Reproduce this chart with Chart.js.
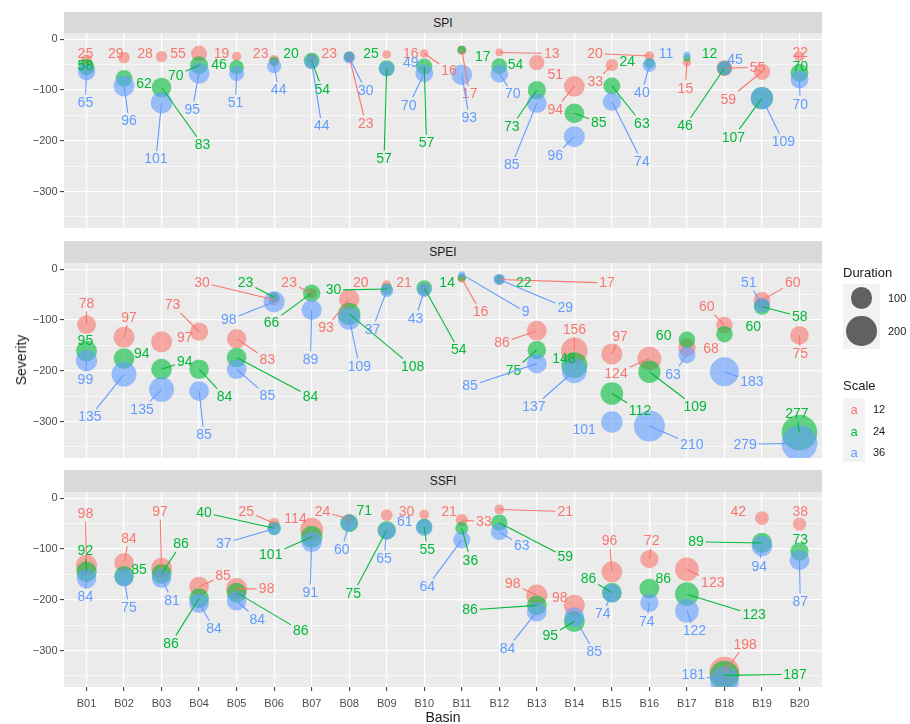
<!DOCTYPE html>
<html>
<head>
<meta charset="utf-8">
<script src="https://cdn.jsdelivr.net/npm/chart.js@4"></script>
<style>
  body { margin: 0; background: #ffffff; font-family: 'Liberation Sans', Arial, sans-serif; }
  #wrap { position: relative; width: 910px; height: 724px; overflow: hidden; background: #ffffff; }
  #wrap canvas { position: absolute; left: 0; }
  .strip { position: absolute; left: 64px; width: 758px; background: #D9D9D9; color: #1A1A1A;
           font-size: 12px; display: flex; align-items: center; justify-content: center; }
  .txt { position: absolute; white-space: nowrap; line-height: 1; color: #1A1A1A; font-weight: normal; }
  .key { position: absolute; background: #F2F2F2; }
  .dot { position: absolute; border-radius: 50%; background: rgba(0,0,0,0.6); }
</style>
</head>
<body>
<div id="wrap">
  <div class="strip" style="top:12px;height:21px;">SPI</div>
  <div class="strip" style="top:241px;height:22px;">SPEI</div>
  <div class="strip" style="top:470px;height:22px;">SSFI</div>
  <canvas id="cSPI" width="910" height="195" style="top:33px"></canvas>
  <canvas id="cSPEI" width="910" height="195" style="top:263px"></canvas>
  <canvas id="cSSFI" width="910" height="218" style="top:492px"></canvas>

  <div class="txt" style="left:21px;top:360px;font-size:14px;transform:translate(-50%,-50%) rotate(-90deg);">Severity</div>
  <div class="txt" style="left:443px;top:717px;font-size:14px;transform:translate(-50%,-50%);">Basin</div>

  <!-- size legend -->
  <div class="txt" style="left:843px;top:272px;font-size:13px;transform:translateY(-50%);">Duration</div>
  <div class="key" style="left:843px;top:284px;width:37px;height:65px;"></div>
  <div id="sizeKeys"></div>
  <!-- colour legend -->
  <div class="txt" style="left:843px;top:385px;font-size:13px;transform:translateY(-50%);">Scale</div>
  <div class="key" style="left:843px;top:398px;width:22px;height:64px;"></div>
  <div id="scaleKeys"></div>
</div>

<script>
// ---- categories, scales, ticks ----
const basins = ['B01','B02','B03','B04','B05','B06','B07','B08','B09','B10',
                'B11','B12','B13','B14','B15','B16','B17','B18','B19','B20'];
const scaleNames = ['12', '24', '36'];
const scaleColors = ['#F8766D', '#00BA38', '#619CFF'];
const yTickValues = [-300, -200, -100, 0];
const yTickLabels = ['\u2212300', '\u2212200', '\u2212100', '0'];
const sizeLegendValues = [100, 200];

// ---- SPI ----
const spiSeverity12 = [-40,-36,-34,-28,-34,-41,-38,-34,-30,-28,-22,-26,-46,-93,-51,-33,-46,-57,-64,-34];
const spiDuration12 = [25,29,28,55,19,23,23,23,16,16,17,13,51,94,33,20,15,55,59,22];
const spiSeverity24 = [-55,-77,-95,-51,-55,-44,-42,-34,-57,-54,-21,-53,-100,-146,-92,-47,-37,-57,-116,-66];
const spiDuration24 = [58,62,83,70,46,20,54,25,57,57,17,54,73,85,63,24,12,46,107,70];
const spiSeverity36 = [-64,-92,-125,-67,-67,-53,-45,-36,-58,-67,-70,-68,-126,-192,-123,-51,-31,-57,-116,-79];
const spiDuration36 = [65,96,101,95,51,44,44,30,49,70,93,70,85,96,74,40,11,45,109,70];

// ---- SPEI ----
const speiSeverity12 = [-109,-134,-143,-123,-137,-60,-47,-59,-31,-37,-18,-20,-121,-161,-167,-176,-154,-110,-61,-130];
const speiDuration12 = [78,97,97,73,83,30,23,93,20,21,16,17,86,156,97,124,68,60,60,75];
const speiSeverity24 = [-161,-176,-197,-197,-174,-55,-47,-88,-39,-37,-16,-20,-159,-189,-245,-202,-139,-128,-74,-322];
const speiDuration24 = [95,94,94,84,84,23,66,108,30,54,14,22,75,148,112,109,60,60,58,277];
const speiSeverity36 = [-180,-207,-237,-240,-197,-64,-80,-97,-42,-41,-10,-20,-186,-200,-301,-309,-169,-202,-70,-343];
const speiDuration36 = [99,135,135,85,85,98,89,109,37,43,9,29,85,137,101,210,63,183,51,279];

// ---- SSFI ----
const ssfiSeverity12 = [-132,-127,-138,-174,-178,-49,-61,-41,-33,-32,-43,-22,-191,-211,-145,-120,-140,-342,-39,-51];
const ssfiDuration12 = [98,84,97,85,98,25,114,24,30,21,33,21,98,98,96,72,123,198,42,38];
const ssfiSeverity24 = [-145,-153,-149,-197,-186,-59,-76,-49,-63,-56,-59,-48,-211,-243,-186,-178,-189,-349,-88,-105];
const ssfiDuration24 = [92,85,86,86,86,40,101,71,75,55,36,59,86,95,86,86,123,187,89,73];
const ssfiSeverity36 = [-158,-156,-158,-207,-202,-60,-86,-49,-64,-58,-82,-66,-224,-234,-187,-206,-222,-360,-94,-122];
const ssfiDuration36 = [84,75,81,84,84,37,91,60,65,61,64,63,84,85,74,74,122,181,94,87];

// ---- repelled label offsets: [basin steps, severity units, draw segment] ----
const spiNudge12 = [[-0.03,12,0],[-0.22,8,0],[-0.44,6,0],[-0.56,0,0],[-0.40,6,0],[-0.36,13,0],[0.47,10,0],[0.44,-132,1],[0.64,2,0],[0.66,-34,1],
                    [0.21,-86,1],[1.40,-2,1],[0.49,-24,0],[-0.51,-45,1],[-0.44,-33,1],[-1.45,5,1],[-0.04,-51,1],[0.88,2,1],[-0.90,-54,1],[0.02,8,0]];
const spiNudge24 = [[-0.03,4,0],[0.53,-11,0],[1.09,-113,1],[-0.62,-21,1],[-0.47,6,0],[0.45,16,0],[0.28,-57,1],[0.58,6,0],[-0.07,-178,1],[0.06,-150,1],
                    [0.56,-13,0],[0.43,4,0],[-0.67,-72,1],[0.65,-18,1],[0.80,-74,1],[-0.59,3,0],[0.60,9,0],[-1.05,-114,1],[-0.76,-77,1],[0.02,12,0]];
const spiNudge36 = [[-0.03,-61,1],[0.13,-69,1],[-0.15,-111,1],[-0.18,-71,1],[-0.03,-58,1],[0.12,-47,1],[0.27,-126,1],[0.44,-65,1],[0.64,11,0],[-0.41,-63,1],
                    [0.20,-84,1],[0.36,-40,1],[-0.67,-122,1],[-0.51,-38,1],[0.80,-118,1],[-0.20,-54,1],[-0.56,3,0],[0.28,16,0],[0.57,-86,1],[0.02,-49,1]];

const speiNudge12 = [[0,42,1],[0.13,39,1],[0.62,8,0],[-0.71,53,1],[0.82,-41,1],[-1.92,34,1],[-0.60,21,1],[-0.62,-57,1],[-0.69,5,0],[-0.54,11,0],
                     [0.50,-66,1],[2.87,-7,1],[-0.93,-24,1],[0,43,1],[0.22,35,1],[-0.89,-29,1],[0.64,-2,0],[-0.47,36,1],[0.82,35,1],[0.02,-37,1]];
const speiNudge24 = [[-0.03,20,0],[0.47,9,0],[0.62,15,1],[0.68,-54,1],[1.97,-77,1],[-0.76,29,1],[-1.07,-58,1],[1.69,-104,1],[-1.42,-2,1],[0.92,-122,1],
                     [-0.39,-10,0],[0.65,-6,0],[-0.62,-41,1],[-0.28,12,0],[0.75,-34,1],[1.22,-69,1],[-0.62,8,0],[0.77,14,0],[1.01,-19,1],[-0.07,38,1]];
const speiNudge36 = [[-0.03,-37,1],[-0.91,-84,1],[-0.52,-39,1],[0.13,-86,1],[0.82,-53,1],[-1.21,-36,1],[-0.03,-98,1],[0.27,-94,1],[-0.38,-76,1],[-0.23,-56,1],
                     [1.70,-74,1],[1.76,-55,1],[-1.78,-44,1],[-1.08,-71,1],[-0.74,-15,0],[1.13,-36,1],[-0.37,-38,1],[0.73,-20,1],[-0.35,44,1],[-1.45,-2,1]];

const ssfiNudge12 = [[-0.03,102,1],[0.13,48,1],[-0.04,112,1],[0.64,21,1],[0.80,-1,1],[-0.74,23,1],[-0.43,20,0],[-0.71,15,1],[0.53,7,0],[0.66,6,0],
                     [0.59,-3,1],[1.76,-4,1],[-0.64,22,1],[-0.39,15,0],[-0.06,61,1],[0.06,36,1],[0.69,-26,1],[0.55,54,1],[-0.63,13,0],[0.02,25,0]];
const ssfiNudge24 = [[-0.03,41,1],[0.40,13,0],[0.52,59,1],[-0.75,-89,1],[1.71,-75,1],[-1.87,31,1],[-1.09,-36,1],[0.40,25,0],[-0.89,-124,1],[0.08,-45,1],
                     [0.23,-63,1],[1.76,-68,1],[-1.78,-9,1],[-0.64,-28,1],[-0.62,28,1],[0.37,20,0],[1.79,-41,1],[1.88,2,1],[-1.76,2,1],[0.02,23,0]];
const ssfiNudge36 = [[-0.03,-36,1],[0.13,-59,1],[0.28,-43,1],[0.40,-50,1],[0.55,-37,1],[-1.34,-29,1],[-0.04,-100,1],[-0.20,-52,1],[-0.07,-54,1],[-0.52,12,0],
                     [-0.92,-92,1],[0.60,-28,1],[-0.78,-72,1],[0.53,-69,1],[-0.24,-41,1],[-0.07,-37,1],[0.20,-39,1],[-0.83,13,1],[-0.07,-40,1],[0.02,-82,1]];

// ---- panel tables built from the arrays above ----
const panels = [
  { canvas: 'cSPI',  showX: false,
    severity: [spiSeverity12, spiSeverity24, spiSeverity36],
    duration: [spiDuration12, spiDuration24, spiDuration36],
    nudge:    [spiNudge12, spiNudge24, spiNudge36] },
  { canvas: 'cSPEI', showX: false,
    severity: [speiSeverity12, speiSeverity24, speiSeverity36],
    duration: [speiDuration12, speiDuration24, speiDuration36],
    nudge:    [speiNudge12, speiNudge24, speiNudge36] },
  { canvas: 'cSSFI', showX: true,
    severity: [ssfiSeverity12, ssfiSeverity24, ssfiSeverity36],
    duration: [ssfiDuration12, ssfiDuration24, ssfiDuration36],
    nudge:    [ssfiNudge12, ssfiNudge24, ssfiNudge36] }
];

const FONT = "'Liberation Sans', Arial, sans-serif";
const LABEL_FONT = "14px " + FONT;
const Y_MIN = -372, Y_MAX = 12.4;
const sizeOf = d => 1.07 * Math.sqrt(d);           // bubble radius (px) from duration
const fade = (hex, a) => {
  const n = parseInt(hex.slice(1), 16);
  return `rgba(${(n >> 16) & 255},${(n >> 8) & 255},${n & 255},${a})`;
};
const gridValues = yTickValues.concat(yTickValues.map(v => v - 50)).sort((a, b) => a - b);

// grey panel background
const panelBackground = {
  id: 'panelBackground',
  beforeDraw(chart) {
    const { ctx, chartArea: a } = chart;
    ctx.save();
    ctx.fillStyle = '#EBEBEB';
    ctx.fillRect(a.left, a.top, a.right - a.left, a.bottom - a.top);
    ctx.restore();
  }
};

// duration labels with connector segments
const repelLabels = {
  id: 'repelLabels',
  afterDatasetsDraw(chart, args, opts) {
    const p = opts.panel;
    if (!p) return;
    const { ctx, chartArea: a } = chart;
    const xs = chart.scales.x, ys = chart.scales.y;
    ctx.save();
    ctx.beginPath();
    ctx.rect(a.left, a.top, a.right - a.left, a.bottom - a.top);
    ctx.clip();
    ctx.font = LABEL_FONT;
    ctx.textAlign = 'center';
    ctx.textBaseline = 'middle';
    ctx.lineWidth = 1.1;
    for (let s = 0; s < scaleNames.length; s++) {
      const col = scaleColors[s];
      for (let i = 0; i < basins.length; i++) {
        const sev = p.severity[s][i];
        const [dx, dy, seg] = p.nudge[s][i];
        const text = String(p.duration[s][i]);
        const px = xs.getPixelForValue(i + 1), py = ys.getPixelForValue(sev);
        const lx = xs.getPixelForValue(i + 1 + dx), ly = ys.getPixelForValue(sev + dy);
        if (seg) {
          const hw = ctx.measureText(text).width / 2 + 2, hh = 8;
          const vx = px - lx, vy = py - ly;
          const tx = Math.abs(vx) > 0 ? hw / Math.abs(vx) : Infinity;
          const ty = Math.abs(vy) > 0 ? hh / Math.abs(vy) : Infinity;
          const t = Math.min(tx, ty);
          if (t < 1) {
            const ex = lx + vx * t, ey = ly + vy * t;
            if (Math.hypot(px - ex, py - ey) > 3) {
              ctx.strokeStyle = col;
              ctx.beginPath();
              ctx.moveTo(px, py);
              ctx.lineTo(ex, ey);
              ctx.stroke();
            }
          }
        }
        ctx.fillStyle = col;
        ctx.fillText(text, lx, ly + 0.5);
      }
    }
    ctx.restore();
  }
};

function buildChart(p) {
  const datasets = scaleNames.map((name, s) => ({
    label: name,
    order: scaleNames.length - s,
    data: basins.map((b, i) => ({ x: i + 1, y: p.severity[s][i], r: sizeOf(p.duration[s][i]) })),
    backgroundColor: fade(scaleColors[s], 0.6),
    borderWidth: 0,
    hoverBorderWidth: 0,
    clip: 0
  }));
  return new Chart(document.getElementById(p.canvas), {
    type: 'bubble',
    data: { datasets },
    plugins: [panelBackground, repelLabels],
    options: {
      responsive: false,
      animation: false,
      devicePixelRatio: 1,
      events: [],
      layout: { autoPadding: false, padding: { left: 0, right: 88, top: 0, bottom: 0 } },
      plugins: {
        legend: { display: false },
        tooltip: { enabled: false },
        repelLabels: { panel: p }
      },
      scales: {
        x: {
          type: 'linear', min: 0.4, max: 20.6,
          afterBuildTicks: sc => { sc.ticks = basins.map((b, i) => ({ value: i + 1 })); },
          afterFit: sc => { sc.height = p.showX ? 23 : 0; sc.paddingLeft = 0; sc.paddingRight = 0; },
          border: { display: false },
          grid: { color: '#FFFFFF', lineWidth: 1.2, drawTicks: p.showX, tickLength: 4, tickColor: '#333333', tickWidth: 1 },
          ticks: {
            display: p.showX, autoSkip: false, maxRotation: 0, padding: 6,
            color: '#4D4D4D', font: { size: 11, family: FONT },
            callback: v => basins[Math.round(v) - 1]
          }
        },
        y: {
          type: 'linear', min: Y_MIN, max: Y_MAX,
          afterBuildTicks: sc => { sc.ticks = gridValues.map(v => ({ value: v })); },
          afterFit: sc => { sc.width = 64; sc.paddingTop = 0; sc.paddingBottom = 0; },
          border: { display: false },
          grid: {
            color: '#FFFFFF',
            lineWidth: c => (yTickValues.includes(c.tick.value) ? 1.2 : 0.6),
            drawTicks: true, tickLength: 4, tickWidth: 1,
            tickColor: c => (yTickValues.includes(c.tick.value) ? '#333333' : 'rgba(0,0,0,0)')
          },
          ticks: {
            autoSkip: false, padding: 2.5, color: '#4D4D4D', font: { size: 11, family: FONT },
            callback: v => { const k = yTickValues.indexOf(v); return k < 0 ? '' : yTickLabels[k]; }
          }
        }
      }
    }
  });
}

panels.forEach(buildChart);

// ---- legends ----
const wrap = document.getElementById('wrap');
const sizeKeyCenters = [298, 331];
sizeLegendValues.forEach((v, k) => {
  const r = sizeOf(v);
  const d = document.createElement('div');
  d.className = 'dot';
  d.style.cssText = `left:${861.5 - r}px;top:${sizeKeyCenters[k] - r}px;width:${2 * r}px;height:${2 * r}px;`;
  wrap.appendChild(d);
  const t = document.createElement('div');
  t.className = 'txt';
  t.style.cssText = `left:888px;top:${sizeKeyCenters[k]}px;font-size:11px;transform:translateY(-50%);`;
  t.textContent = String(v);
  wrap.appendChild(t);
});
scaleNames.forEach((name, k) => {
  const cy = 409 + k * 21.5;
  const a = document.createElement('div');
  a.className = 'txt';
  a.style.cssText = `left:854px;top:${cy}px;font-size:13px;transform:translate(-50%,-50%);color:${scaleColors[k]};`;
  a.textContent = 'a';
  wrap.appendChild(a);
  const t = document.createElement('div');
  t.className = 'txt';
  t.style.cssText = `left:873px;top:${cy}px;font-size:11px;transform:translateY(-50%);`;
  t.textContent = name;
  wrap.appendChild(t);
});
</script>
</body>
</html>
